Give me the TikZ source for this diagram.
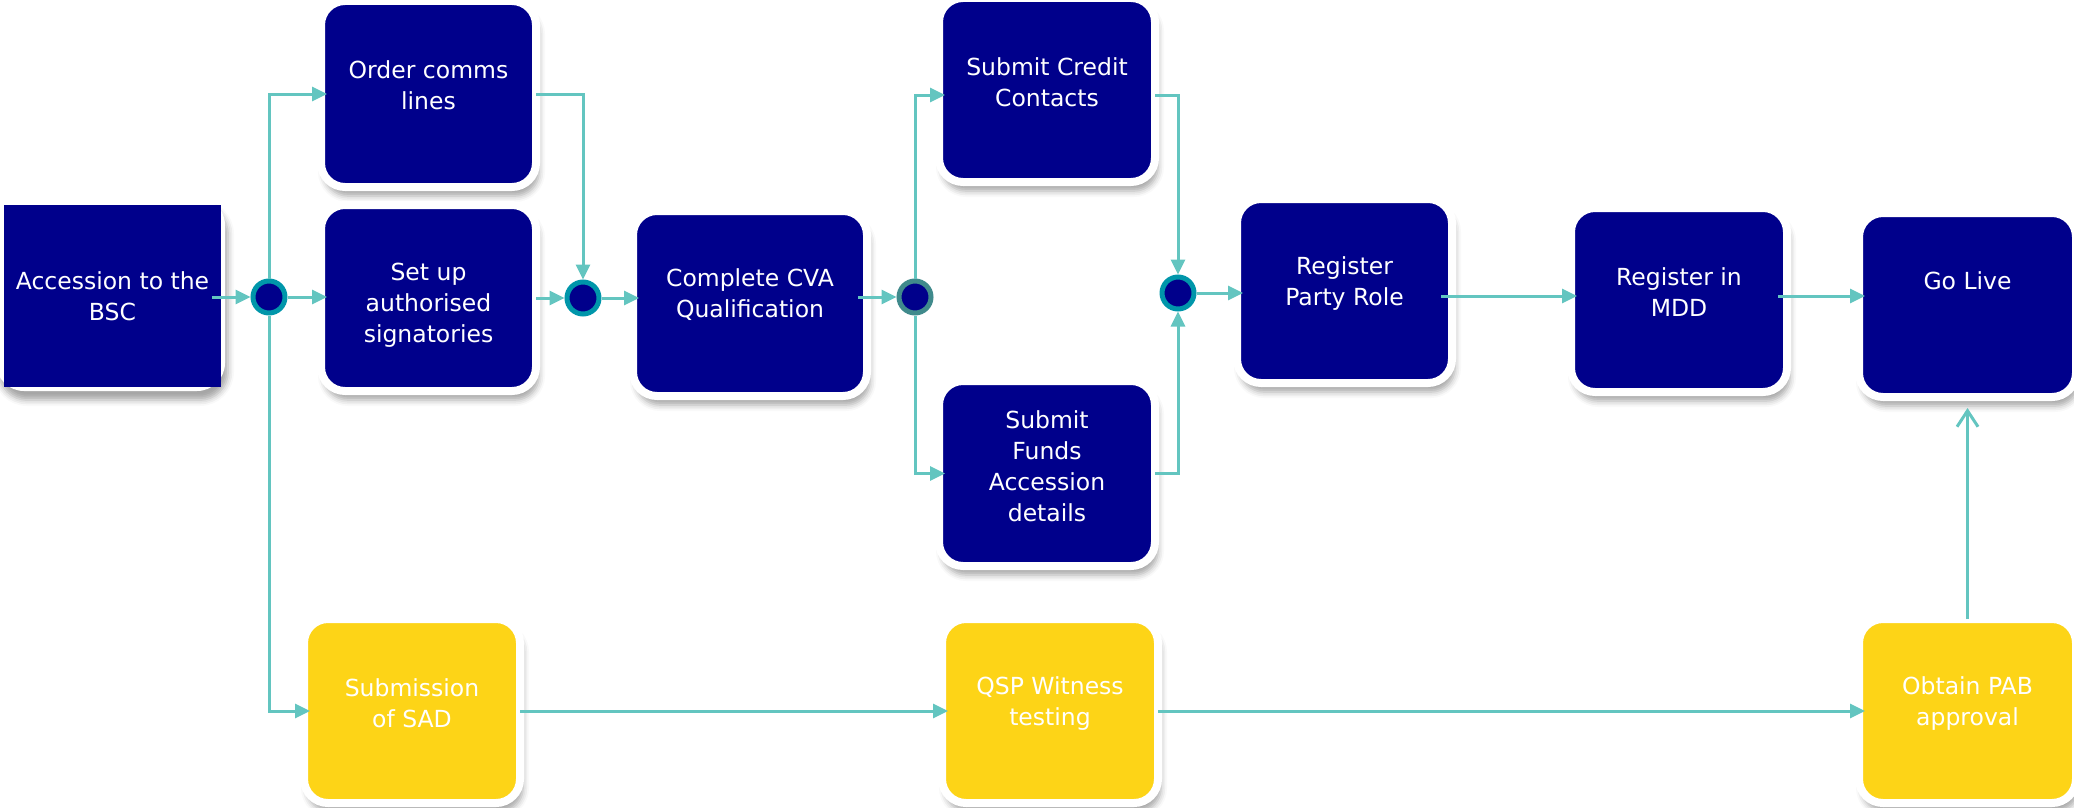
\documentclass[tikz,border=0pt]{standalone}
\usepackage{fontspec}
\setmainfont{DejaVu Sans}
\usetikzlibrary{arrows.meta,shadows.blur,calc}
\definecolor{navy}{RGB}{0,0,139}
\definecolor{gold}{RGB}{253,212,23}
\definecolor{flow}{RGB}{99,197,192}
\definecolor{ring}{RGB}{0,150,170}
\definecolor{ringdark}{RGB}{64,138,140}
\begin{document}
\begin{tikzpicture}[x=1pt,y=-1pt,
  shad/.style={blur shadow={shadow xshift=3pt, shadow yshift=-9pt, shadow blur radius=6pt, shadow opacity=35}},
  box/.style={rectangle, fill=navy, draw=white, line width=8pt, rounded corners=24pt, inner sep=0pt, outer sep=0pt, shad},
  ybox/.style={box, fill=gold},
  txt/.style={text=white, align=center, inner sep=0pt, font=\fontsize{23.5}{31}\selectfont},
  junc/.style={circle, fill=navy, draw=ring, line width=5pt, minimum size=32pt, inner sep=0pt},
  conn/.style={draw=flow, line width=3pt, -{Triangle[length=15pt,width=14pt]}},
  tipbox/.style={shorten >=-6pt},
  tipj/.style={shorten >=0pt},
  openarr/.style={draw=flow, line width=3pt, -{Straight Barb[length=16pt,width=21pt]}}
]
\useasboundingbox (0,0) rectangle (2074,808);

% left start box
\node[fill=white, rounded corners=28pt, minimum width=229pt, minimum height=194pt, inner sep=0pt, shad] (accframe) at (110.5,294) {};
\node[fill=navy, minimum width=217pt, minimum height=182pt, txt] (acc) at (112.5,296) {Accession to the\\BSC};

% boxes
\node[box, minimum width=215pt, minimum height=186pt] (order) at (428.5,94) {};
\node[box, minimum width=215pt, minimum height=186pt] (setup) at (428.5,298) {};
\node[box, minimum width=234pt, minimum height=185pt] (cva) at (750,303.5) {};
\node[box, minimum width=216pt, minimum height=184pt] (credit) at (1047,90) {};
\node[box, minimum width=216pt, minimum height=185pt] (funds) at (1047,473.5) {};
\node[box, minimum width=215pt, minimum height=184pt] (party) at (1344.5,291) {};
\node[box, minimum width=216pt, minimum height=184pt] (mdd) at (1679,300) {};
\node[box, minimum width=217pt, minimum height=184pt] (golive) at (1967.5,305) {};
\node[ybox, minimum width=216pt, minimum height=184pt] (sad) at (412,711) {};
\node[ybox, minimum width=216pt, minimum height=184pt] (qsp) at (1050,711) {};
\node[ybox, minimum width=217pt, minimum height=184pt] (pab) at (1967.5,711) {};

% texts
\node[txt] (order-t) at (428.5,85) {Order comms\\lines};
\node[txt] (setup-t) at (428.5,305) {Set up\\authorised\\signatories};
\node[txt] (cva-t) at (750,295) {Complete CVA\\Qualification};
\node[txt] (credit-t) at (1047,82) {Submit Credit\\Contacts};
\node[txt] (funds-t) at (1047,466) {Submit\\Funds\\Accession\\details};
\node[txt] (party-t) at (1344.5,284) {Register\\Party Role};
\node[txt] (mdd-t) at (1679,292) {Register in\\MDD};
\node[txt] (golive-t) at (1967.5,281) {Go Live};
\node[txt] (sad-t) at (412,703) {Submission\\of SAD};
\node[txt] (qsp-t) at (1050,704) {QSP Witness\\testing};
\node[txt] (pab-t) at (1967.5,704) {Obtain PAB\\approval};

% junctions
\node[junc] (j1) at (269,297) {};
\node[junc] (j2) at (583,298) {};
\node[junc, draw=ringdark] (j3) at (915,297) {};
\node[junc] (j4) at (1178,293) {};

% connectors
\draw[conn, tipj, shorten <=-9pt] (acc.east |- j1.west) -- (j1.west);
\draw[conn, tipbox] (j1.east) -- (j1.east -| setup.west);
\draw[conn, tipbox] (j1.north) |- (order.west);
\draw[conn, tipbox] (j1.south) |- (sad.west);
\draw[conn, tipj] (order.east) -| (j2.north);
\draw[conn, tipj] (setup.east |- j2.west) -- (j2.west);
\draw[conn, tipbox] (j2.east) -- (j2.east -| cva.west);
\draw[conn, tipj, shorten <=-9pt] (cva.east |- j3.west) -- (j3.west);
\draw[conn, tipbox] (j3.north) |- ($(credit.west)+(0,5)$);
\draw[conn, tipbox] (j3.south) |- (funds.west);
\draw[conn, tipj] ($(credit.east)+(0,5)$) -| (j4.north);
\draw[conn, tipj] (funds.east) -| (j4.south);
\draw[conn, tipbox] (j4.east) -- (j4.east -| party.west);
\draw[conn, tipbox, shorten <=-11pt] ($(party.east)+(0,5)$) -- ($(party.east -| mdd.west)+(0,5)$);
\draw[conn, tipbox, shorten <=-9pt] ($(mdd.east)+(0,-4)$) -- ($(mdd.east -| golive.west)+(0,-4)$);
\draw[conn, tipbox] (sad.east) -- (sad.east -| qsp.west);
\draw[conn, tipbox] (qsp.east) -- (qsp.east -| pab.west);
\draw[openarr, shorten >=11pt] (pab.north) -- (pab.north |- golive.south);
\end{tikzpicture}
\end{document}
